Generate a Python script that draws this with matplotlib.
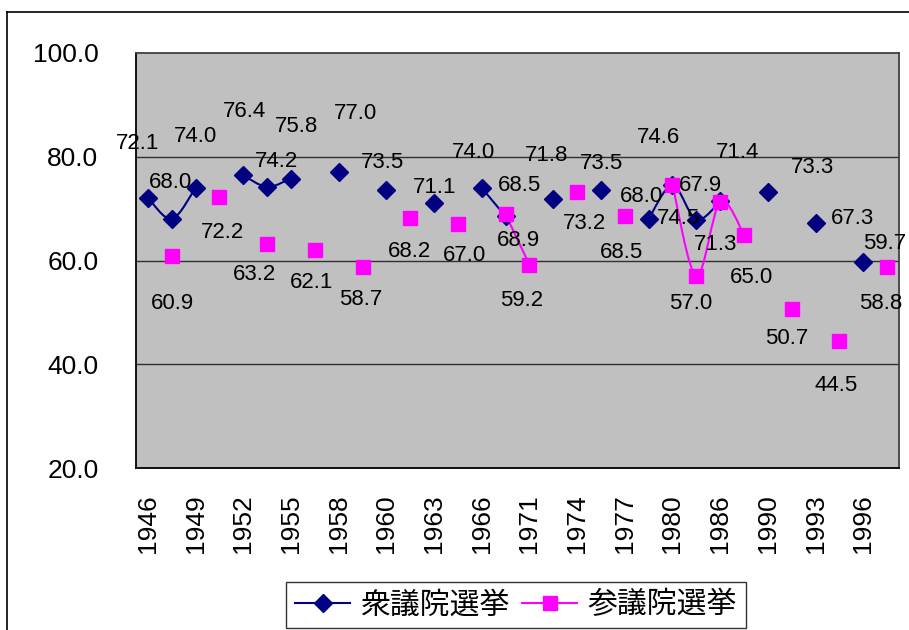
import matplotlib
matplotlib.use('Agg')
import matplotlib.pyplot as plt
from matplotlib.path import Path
from matplotlib.patches import PathPatch
from matplotlib.lines import Line2D
import numpy as np

plt.rcParams['font.family'] = ['Liberation Sans', 'Noto Sans CJK JP', 'DejaVu Sans']

# ---- data ----
categories = ['1946', '1947', '1949', '1950', '1952', '1953', '1955', '1956',
              '1958', '1959', '1960', '1962', '1963', '1965', '1966', '1969',
              '1971', '1972', '1974', '1976', '1977', '1979', '1980', '1983',
              '1986', '1989', '1990', '1992', '1993', '1995', '1996', '1998']
shugiin = [72.1, 68.0, 74.0, None, 76.4, 74.2, 75.8, None, 77.0, None, 73.5, None,
           71.1, None, 74.0, 68.5, None, 71.8, None, 73.5, None, 68.0, 74.5, 67.9,
           71.4, None, 73.3, None, 67.3, None, 59.7, None]
sangiin = [None, 60.9, None, 72.2, None, 63.2, None, 62.1, None, 58.7, None, 68.2,
           None, 67.0, None, 68.9, 59.2, None, 73.2, None, 68.5, None, 74.6, 57.0,
           71.3, 65.0, None, 50.7, None, 44.5, None, 58.8]
series_names = ['衆議院選挙', '参議院選挙']
yticks = [20, 40, 60, 80, 100]

# label offsets (pixels, dx right, dy up) -- styling only
shu_off = [(-10, 54), (-1, 37), (0, 51), (1, 64), (9, 25), (6, 52), (17, 59), (-4, 28),
           (1, 15), (-8, 35), (14, 31), (-7, 44), (1, 27), (-7, 22), (6, -33), (4, 34),
           (17, 49), (45, 24), (37, 4), (21, 19)]
san_off = [(1, -48), (3, -35), (-13, -31), (-3, -33), (-2, -32), (-1, -34), (7, -31),
           (13, -26), (-8, -36), (7, -31), (-3, -36), (-14, 47), (-6, -27), (-5, -43),
           (7, -43), (-5, -30), (-3, -45), (-6, -37)]

W, H = 909, 630
fig = plt.figure(figsize=(W / 100, H / 100), dpi=100)
fig.patch.set_facecolor('white')
ax = fig.add_axes([136 / W, 1 - 468 / H, (899 - 136) / W, (468 - 53) / H])
ax.set_facecolor('#C0C0C0')

# chart-area border (cropped)
fig.add_artist(Line2D([7.5 / W, 7.5 / W], [0, 1 - 12 / H], color='black', lw=1.2))
fig.add_artist(Line2D([7.5 / W, 1], [1 - 12 / H, 1 - 12 / H], color='black', lw=1.2))


def smooth_runs(vals):
    """Split series into consecutive runs and build Excel-like smoothed bezier paths."""
    runs, cur = [], []
    for i, v in enumerate(vals):
        if v is None:
            if cur:
                runs.append(cur)
            cur = []
        else:
            cur.append((i, v))
    if cur:
        runs.append(cur)
    paths = []
    for r in runs:
        if len(r) < 2:
            continue
        P = np.array(r, dtype=float)
        n = len(P)
        verts = [P[0]]
        codes = [Path.MOVETO]
        for i in range(n - 1):
            p0 = P[i - 1] if i > 0 else P[i]
            p1 = P[i]
            p2 = P[i + 1]
            p3 = P[i + 2] if i + 2 < n else P[i + 1]
            c1 = p1 + (p2 - p0) / 6.0
            c2 = p2 - (p3 - p1) / 6.0
            verts += [c1, c2, p2]
            codes += [Path.CURVE4] * 3
        paths.append(Path(verts, codes))
    return paths


colors = ['#000080', '#FF00FF']
markers = ['D', 's']
msizes = [9.5, 9.5]
for vals, col, mk, ms, offs in zip([shugiin, sangiin], colors, markers, msizes, [shu_off, san_off]):
    for p in smooth_runs(vals):
        ax.add_patch(PathPatch(p, facecolor='none', edgecolor=col, lw=1.5, zorder=3))
    xs = [i for i, v in enumerate(vals) if v is not None]
    ys = [v for v in vals if v is not None]
    ax.plot(xs, ys, linestyle='none', marker=mk, ms=ms, color=col, mec=col, zorder=4)
    for (x, y), (dx, dy) in zip(zip(xs, ys), offs):
        ax.annotate(f'{y:.1f}', (x, y), xytext=(dx * 0.72, dy * 0.72),
                    textcoords='offset points', ha='center', va='center',
                    fontsize=16, color='black', annotation_clip=False, zorder=5)

ax.set_xlim(-0.5, len(categories) - 0.5)
ax.set_ylim(20, 100)
ax.set_yticks(yticks)
ax.set_yticklabels([f'{v:.1f}' for v in yticks])
ax.set_xticks(range(len(categories)))
ax.set_xticklabels([c if i % 2 == 0 else '' for i, c in enumerate(categories)], rotation=90)
ax.tick_params(axis='both', length=0, labelsize=19)
ax.tick_params(axis='y', pad=27)
ax.tick_params(axis='x', pad=19)
for v in [40, 60, 80]:
    ax.axhline(v, color='#303030', lw=1.0, zorder=1)
for s in ['left', 'bottom']:
    ax.spines[s].set_color('black')
    ax.spines[s].set_linewidth(1.3)
for s in ['top', 'right']:
    ax.spines[s].set_color('#404040')
    ax.spines[s].set_linewidth(1.3)

handles = [Line2D([], [], color=c, marker=m, ms=s, lw=1.5) for c, m, s in zip(colors, markers, msizes)]
leg = fig.legend(handles, series_names, loc='center', bbox_to_anchor=(516 / W, 1 - 605 / H),
                 ncol=2, frameon=True, fancybox=False, edgecolor='black', fontsize=21.5,
                 handlelength=1.85, handletextpad=0.35, columnspacing=0.4, borderpad=0.3,
                 borderaxespad=0)
leg.get_frame().set_linewidth(1.0)

fig.savefig('out.png', dpi=100)
